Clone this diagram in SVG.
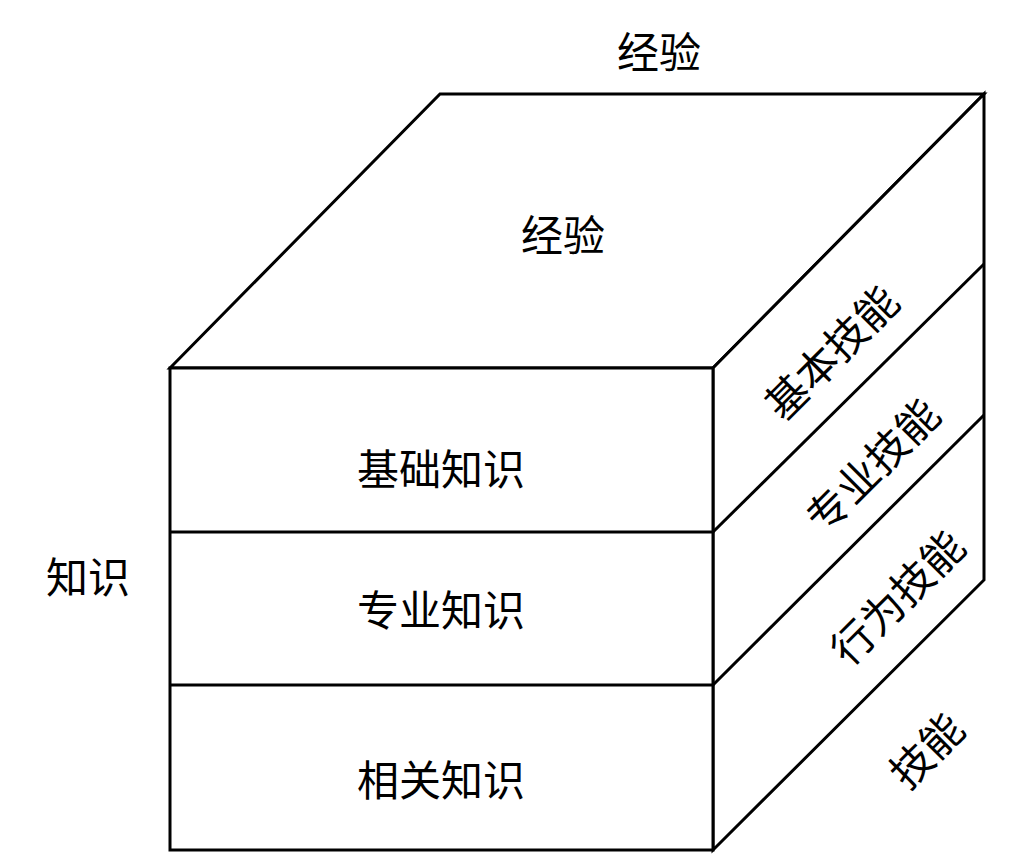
<svg xmlns="http://www.w3.org/2000/svg" width="1013" height="867" viewBox="0 0 1013 867">
<style>
.e{fill:#fff;stroke:#000;stroke-width:3;stroke-linejoin:miter}
.l{stroke:#000;stroke-width:3;fill:none}
.t{font-family:"Noto Sans CJK SC","Liberation Sans",sans-serif;font-size:42px;fill:#000;text-anchor:middle}
</style>
<rect width="1013" height="867" fill="#fff"/>
<g id="cube">
<polygon id="top-face" class="e" points="170,368 440,94 984,94 713,368"/>
<polygon id="right-face" class="e" points="713,368 984,94 984,580 713,850"/>
<rect id="front-face" class="e" x="170" y="368" width="543" height="482"/>
</g>
<g id="connectors">
<line class="l" x1="170" y1="532" x2="713" y2="532"/>
<line class="l" x1="170" y1="685" x2="713" y2="685"/>
<line class="l" x1="713" y1="532" x2="984" y2="264"/>
<line class="l" x1="713" y1="685" x2="984" y2="415"/>
</g>
<g id="label-jingyan-top"><text class="t" x="659" y="68">经验</text></g>
<g id="node-jingyan"><text class="t" x="563" y="251">经验</text></g>
<g id="node-jichu"><text class="t" x="441" y="485">基础知识</text></g>
<g id="node-zhuanye"><text class="t" x="441" y="626">专业知识</text></g>
<g id="node-xiangguan"><text class="t" x="441" y="796">相关知识</text></g>
<g id="label-zhishi"><text class="t" x="88" y="593">知识</text></g>
<g id="node-jiben" transform="translate(832,353) rotate(-45)"><text class="t" x="0" y="15">基本技能</text></g>
<g id="node-zhuanyejineng" transform="translate(873,466) rotate(-45)"><text class="t" x="0" y="15">专业技能</text></g>
<g id="node-xingwei" transform="translate(898,598) rotate(-45)"><text class="t" x="0" y="15">行为技能</text></g>
<g id="label-jineng" transform="translate(927,751) rotate(-45)"><text class="t" x="0" y="15">技能</text></g>
</svg>
